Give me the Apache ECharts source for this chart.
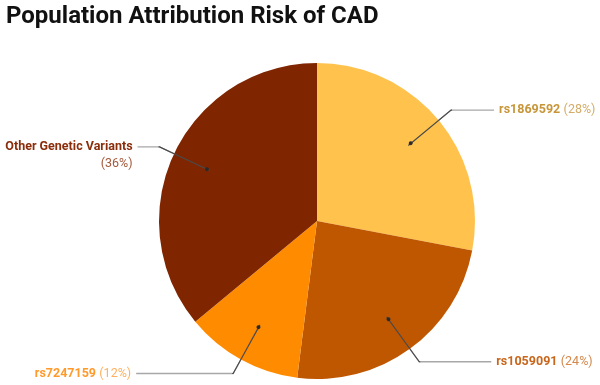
<!DOCTYPE html>
<html>
<head>
<meta charset="utf-8">
<script src="https://cdn.jsdelivr.net/npm/echarts@6/dist/echarts.min.js"></script>
<style>
  html, body { margin: 0; padding: 0; background: #fff; }
  #chart { width: 600px; height: 385px; }
</style>
</head>
<body>
<div id="chart"></div>
<script>
// ── Data ──────────────────────────────────────────────────────────────────────
const variants   = ['rs1869592', 'rs1059091', 'rs7247159', 'Other Genetic Variants'];
const shares     = [28, 24, 12, 36];
const sliceColor = ['#FFC24D', '#BF5700', '#FF8C00', '#7F2500'];
const labelColor = ['#C8963A', '#C8661C', '#FF9A2C', '#8A2D0A'];
const pctColor   = ['#D4AC66', '#D4884C', '#FFB060', '#A45A3C'];
const tailLength = [43, 72, 97, 22];   // horizontal part of each leader

const CENTER = [317, 221];
const RADIUS = 158;
const ELBOW  = 16;    // radial part of the leader outside the pie

const chart = echarts.init(document.getElementById('chart'), null, { renderer: 'canvas' });

const labelled = variants.map((name, i) => {
  const twoLines = name === 'Other Genetic Variants';
  return {
    name,
    value: shares[i],
    itemStyle: { color: sliceColor[i] },
    label: {
      formatter: twoLines ? '{n|{b}}\n{p|({d}%)}' : '{n|{b}} {p|({d}%)}',
      padding: twoLines ? [17, 0, 0, 0] : 0,
      rich: {
        n: { color: labelColor[i], fontWeight: 'bold', fontSize: 12.5, fontFamily: 'Roboto', lineHeight: 17, align: 'right' },
        p: { color: pctColor[i], fontSize: 12.5, fontFamily: 'Roboto', lineHeight: 17, align: 'right' },
      },
    },
    labelLine: { length2: tailLength[i] },
  };
});

const plain = variants.map((name, i) => ({ name, value: shares[i] }));

chart.setOption({
  animation: false,
  title: {
    text: 'Population Attribution Risk of CAD',
    left: 1, top: 0,
    textStyle: { fontFamily: 'Roboto', fontWeight: 'bold', fontSize: 24, color: '#111' },
  },
  series: [
    {
      // visible pie + labels with light horizontal leaders
      type: 'pie',
      z: 2,
      center: CENTER,
      radius: RADIUS,
      startAngle: 90,
      clockwise: true,
      data: labelled,
      label: { alignTo: 'none', distanceToLabelLine: 5, overflow: 'none' },
      labelLine: { length: ELBOW, lineStyle: { color: '#a8a8a8', width: 1.3 } },
      avoidLabelOverlap: false,
      emphasis: { disabled: true },
    },
    {
      // dark radial part of the leaders, starting inside each slice
      type: 'pie',
      z: 3,
      center: CENTER,
      radius: RADIUS * 0.75,
      startAngle: 90,
      clockwise: true,
      silent: true,
      data: plain,
      itemStyle: { color: 'rgba(0,0,0,0)' },
      label: { show: true, formatter: '.', color: 'rgba(0,0,0,0)' },
      labelLine: {
        show: true,
        length: RADIUS * 0.25 + ELBOW,
        length2: 1,
        lineStyle: { color: '#4a4a4a', width: 1.2 },
      },
      avoidLabelOverlap: false,
      emphasis: { disabled: true },
    },
    {
      // dots at the leader starts
      type: 'pie',
      z: 4,
      center: CENTER,
      radius: [RADIUS * 0.5, RADIUS],
      startAngle: 90,
      clockwise: true,
      silent: true,
      data: plain,
      itemStyle: { color: 'rgba(0,0,0,0)' },
      label: { position: 'inside', formatter: '●', fontSize: 9, color: '#2a2a2a' },
      labelLine: { show: false },
      emphasis: { disabled: true },
    },
  ],
});
</script>
</body>
</html>
